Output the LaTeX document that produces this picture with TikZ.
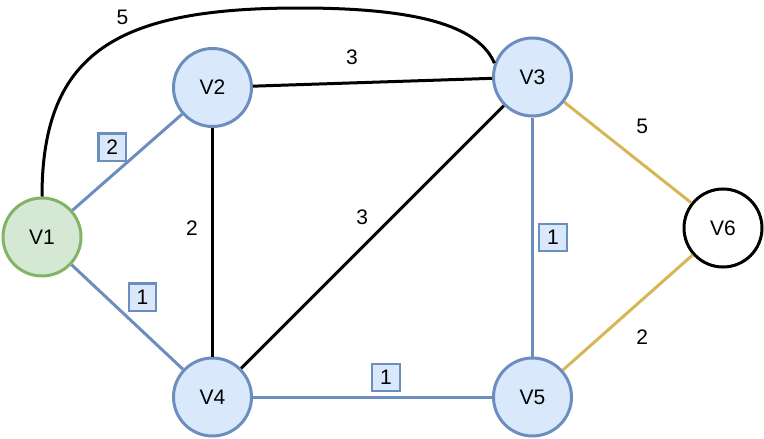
\documentclass[tikz,border=0pt]{standalone}
\usepackage{fontspec}
\setmainfont{Liberation Sans}
\usetikzlibrary{positioning}

\definecolor{vfill}{HTML}{DAE8FC}
\definecolor{vline}{HTML}{6C8EBF}
\definecolor{sfill}{HTML}{D5E8D4}
\definecolor{sline}{HTML}{82B366}
\definecolor{gline}{HTML}{D6B656}

\begin{document}
\begin{tikzpicture}[
    x=1pt, y=-1pt,
    vnode/.style={circle, draw=vline, fill=vfill, line width=3pt, minimum size=78pt, inner sep=0pt, font=\fontsize{21}{25}\selectfont},
    % start vertex is green, the last one is plain white
    snode/.style={vnode, draw=sline, fill=sfill},
    tnode/.style={vnode, draw=black, fill=white},
    bedge/.style={draw=vline, line width=3pt},
    kedge/.style={draw=black, line width=3pt},
    gedge/.style={draw=gline, line width=3pt},
    % weights: boxed on the chosen tree edges, plain on the others
    wbox/.style={rectangle, draw=vline, fill=vfill, line width=2.2pt, minimum size=27.5pt, inner sep=0pt, font=\fontsize{21}{25}\selectfont},
    wlabel/.style={inner sep=1pt, font=\fontsize{21}{25}\selectfont}
  ]
    \useasboundingbox (0,0) rectangle (764,439);

    %--- Vertices
    \node[snode] (v1) at (42,237) {V1};
    \node[vnode] (v2) at (212.5,87.5) {V2};
    \node[vnode] (v3) at (532.5,77) {V3};
    \node[vnode] (v4) at (212.5,397) {V4};
    \node[vnode] (v5) at (532.5,397) {V5};
    \node[tnode] (v6) at (723,228) {V6};

    %--- Long arc from V1 over the top to V3
    \coordinate (arctop) at (300,8);
    \draw[kedge] (v1.north) .. controls (42,50) and (120,8) ..
      node[wlabel, pos=0.6, xshift=-9pt, yshift=15pt] (w13) {5} (arctop)
      .. controls (430,8) and (480,30) .. (v3.160);

    %--- Black edges
    \draw[kedge] (v2) -- node[wlabel, pos=0.414, yshift=26pt] (w23) {3} (v3);
    \draw[kedge] (v2) -- node[wlabel, pos=0.438, xshift=-20.5pt] (w24) {2} (v4);
    \draw[kedge] (v4) -- node[wlabel, pos=0.518, xshift=-15pt, yshift=15pt] (w34) {3} (v3);

    %--- Gold edges
    \draw[gedge] (v3) -- node[wlabel, pos=0.472, xshift=18pt, yshift=23pt] (w36) {5} (v6);
    \draw[gedge] (v5) -- node[wlabel, pos=0.468, xshift=18.5pt, yshift=-21pt] (w56) {2} (v6);

    %--- Blue edges with boxed weights
    \draw[bedge] (v1) -- node[wbox, pos=0.49, xshift=-14pt, yshift=16pt] (w12) {2} (v2);
    \draw[bedge] (v1) -- node[wbox, pos=0.483, xshift=17pt, yshift=18pt] (w14) {1} (v4);
    \draw[bedge] (v3) -- node[wbox, pos=0.502, xshift=20.5pt] (w35) {1} (v5);
    \draw[bedge] (v4) -- node[wbox, pos=0.556, yshift=19.5pt] (w45) {1} (v5);
  \end{tikzpicture}
\end{document}
